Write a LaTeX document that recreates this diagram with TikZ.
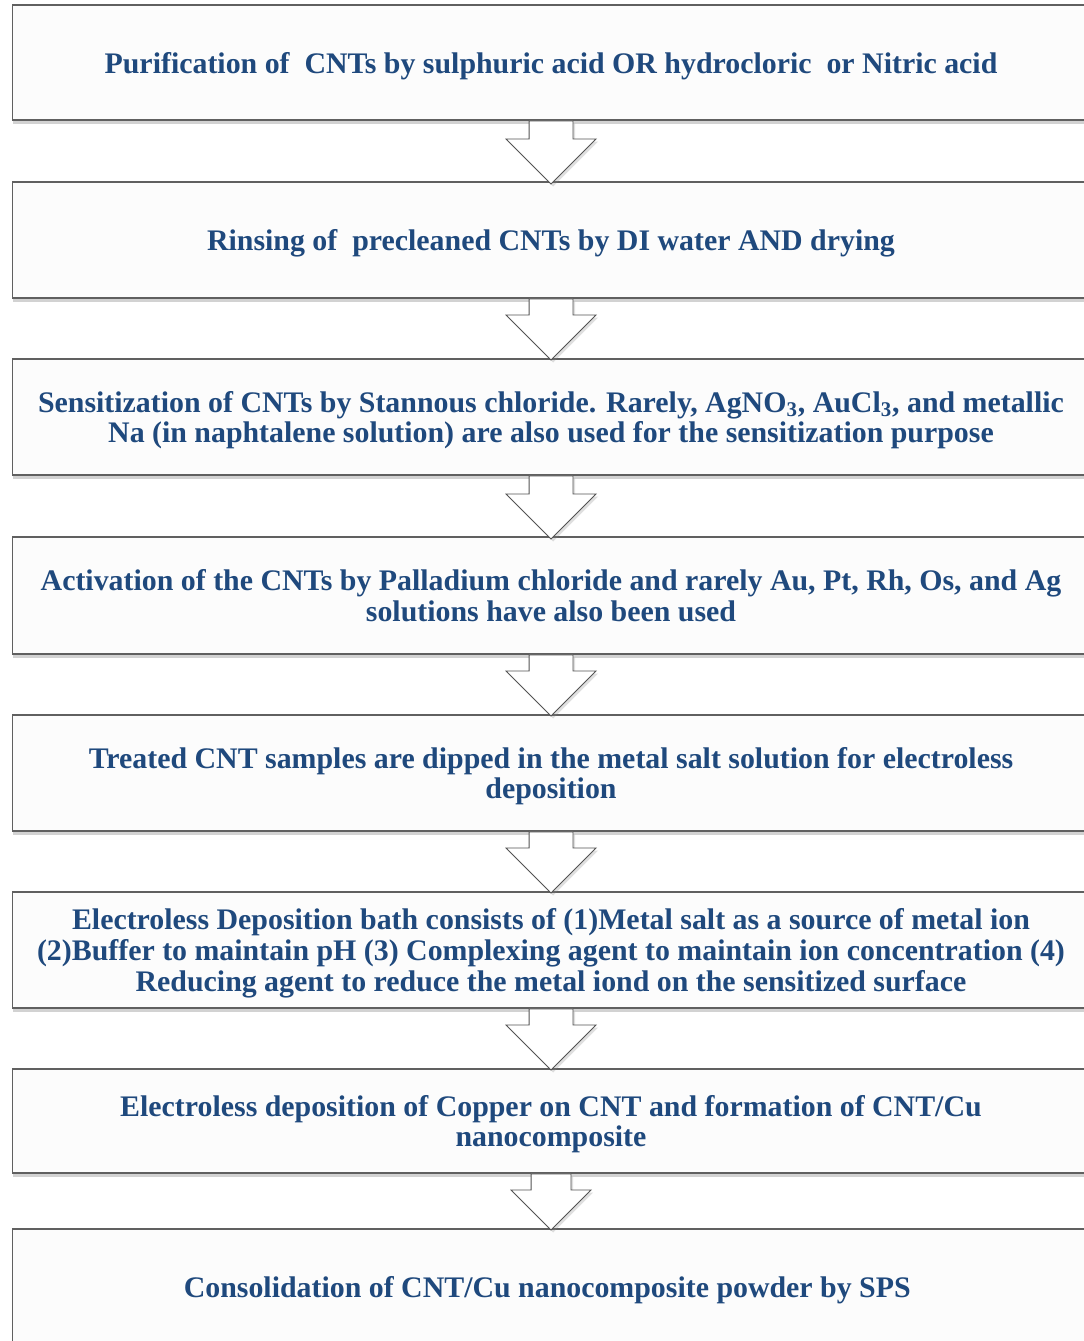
\documentclass[tikz,border=0pt]{standalone}
\usepackage{fontspec}
\setmainfont{Liberation Serif}
\usetikzlibrary{positioning,shapes.arrows,shadows}
\definecolor{stepblue}{RGB}{31,73,125}
\tikzset{
  stepbox/.style={draw=gray!75!black,line width=.6pt,fill=white!98!gray,minimum width=21.56cm,inner sep=0pt,text depth=0pt,align=center,text=stepblue,font=\fontsize{17}{17.6}\selectfont\bfseries,drop shadow={shadow xshift=.6pt,shadow yshift=-2.2pt,opacity=.35}},
  downarrow/.style={single arrow,shape border rotate=270,draw=gray!65!black,line width=.5pt,fill=white,inner ysep=0pt,single arrow tip angle=90,drop shadow={shadow xshift=1.2pt,shadow yshift=-1.5pt,opacity=.25}}
}
\begin{document}
\begin{tikzpicture}[x=.02cm,y=-.02cm]
\useasboundingbox[fill=white](0,0)rectangle(1084,1341);
\foreach \yc/\boxh/\t[count=\i] in {
  62.5/2.3/{Purification of~ CNTs by sulphuric acid OR hydrocloric~ or Nitric acid},
  240/2.32/{Rinsing of~ precleaned CNTs by DI water AND drying},
  417/2.32/{Sensitization of CNTs by Stannous chloride. Rarely, AgNO\textsubscript{3}, AuCl\textsubscript{3}, and metallic\\Na (in naphtalene solution) are also used for the sensitization purpose},
  595.5/2.34/{Activation of the CNTs by Palladium chloride and rarely Au, Pt, Rh, Os, and Ag\\solutions have also been used},
  773/2.32/{Treated CNT samples are dipped in the metal salt solution for electroless\\deposition},
  950/2.32/{Electroless Deposition bath consists of (1)Metal salt as a source of metal ion\\(2)Buffer to maintain pH (3) Complexing agent to maintain ion concentration (4)\\Reducing agent to reduce the metal iond on the sensitized surface},
  1121/2.08/{Electroless deposition of Copper on CNT and formation of CNT/Cu\\nanocomposite},
  1287/2.32/{Consolidation of CNT/Cu nanocomposite powder by SPS}
}
\node at(551,\yc)[stepbox,minimum height=\boxh cm](s\i){\t};
\foreach \alen/\shaftw/\hext[count=\i,evaluate=\i as\j using int(\i+1)] in {
  1.26/.43/.46,
  1.22/.43/.46,
  1.26/.43/.46,
  1.22/.43/.46,
  1.22/.43/.46,
  1.22/.43/.46,
  1.12/.39/.4
}
\path(s\i.south)--(s\j.north)node[pos=0,anchor=tail,downarrow,minimum height=\alen cm,inner xsep=\shaftw cm,single arrow head extend=\hext cm](a\i){};
\end{tikzpicture}
\end{document}
